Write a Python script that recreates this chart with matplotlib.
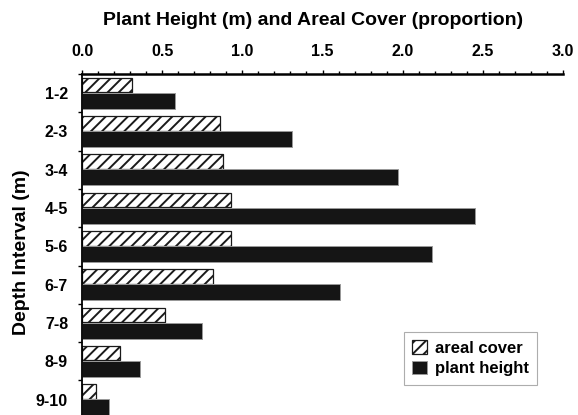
import matplotlib

matplotlib.use("Agg")
import matplotlib.pyplot as plt
import numpy as np
from matplotlib.ticker import MultipleLocator, FixedLocator

intervals = ["1-2", "2-3", "3-4", "4-5", "5-6", "6-7", "7-8", "8-9", "9-10"]
areal_cover = [0.31, 0.86, 0.88, 0.93, 0.93, 0.82, 0.52, 0.24, 0.085]
plant_height = [0.58, 1.31, 1.97, 2.45, 2.18, 1.61, 0.75, 0.36, 0.17]

plt.rcParams["font.family"] = ["Liberation Sans", "DejaVu Sans"]
plt.rcParams["font.weight"] = "bold"
plt.rcParams["hatch.linewidth"] = 1.4

W, H = 578, 415
fig = plt.figure(figsize=(W / 100, H / 100), dpi=100)
# axes: x from 82 to 563 px, top at 74 px, 9 rows of ~38.3 px
ax = fig.add_axes([82 / W, 1 - (74 + 9 * 38.3) / H, 481 / W, 9 * 38.3 / H])

y = np.arange(len(intervals))
ax.barh(y - 0.21, areal_cover, height=0.38, color="white", edgecolor="#1a1a1a",
        hatch="///", linewidth=0.9, label="areal cover")
ax.barh(y + 0.2, plant_height, height=0.42, color="#151515", edgecolor="#999999",
        linewidth=0.7, label="plant height")

ax.set_xlim(0, 3.0)
ax.set_ylim(len(intervals) - 0.5, -0.5)

ax.xaxis.tick_top()
ax.xaxis.set_major_locator(MultipleLocator(0.5))
ax.xaxis.set_minor_locator(MultipleLocator(0.1))
ax.xaxis.set_major_formatter(plt.FuncFormatter(lambda v, p: f"{v:.1f}"))
ax.tick_params(axis="x", which="major", length=3, width=1.0, labelsize=11.5, pad=8)
ax.tick_params(axis="x", which="minor", length=2.5, width=1.0)

ax.set_yticks(y)
ax.set_yticklabels(intervals)
ax.yaxis.set_minor_locator(FixedLocator(np.arange(-0.5, len(intervals), 1.0)))
ax.tick_params(axis="y", which="major", length=0, labelsize=11.5, pad=10)
ax.tick_params(axis="y", which="minor", length=3, width=1.0)

for s in ["right", "bottom"]:
    ax.spines[s].set_visible(False)
ax.spines["top"].set_linewidth(1.8)
ax.spines["left"].set_linewidth(1.3)

fig.text(313 / W, 1 - 25 / H, "Plant Height (m) and Areal Cover (proportion)",
         ha="center", va="baseline", fontsize=14, fontweight="bold")
fig.text(22 / W, 1 - 252 / H, "Depth Interval (m)", rotation=90,
         ha="center", va="center", fontsize=14, fontweight="bold")

leg = fig.legend(loc="upper left", bbox_to_anchor=(404 / W, 1 - 332 / H),
                 fontsize=12, frameon=True, fancybox=False, handlelength=0.85,
                 handleheight=0.85, handletextpad=0.5, borderpad=0.5,
                 borderaxespad=0, labelspacing=0.3)
leg.get_frame().set_edgecolor("#999999")
leg.get_frame().set_linewidth(0.8)

fig.savefig("out.png", dpi=100)
